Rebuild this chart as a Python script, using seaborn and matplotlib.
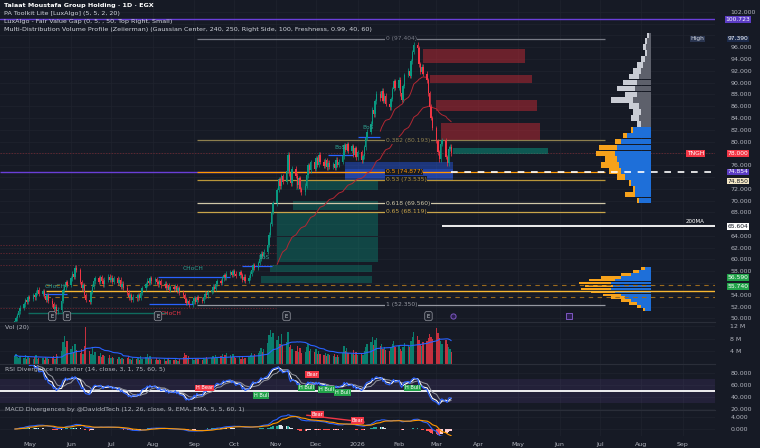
import numpy as np
import pandas as pd
import matplotlib
matplotlib.use('Agg')
import matplotlib.pyplot as plt
import matplotlib.dates as mdates
import matplotlib.transforms as mtrans
import seaborn as sns

sns.set_theme(style='dark')
plt.rcParams['font.family'] = ['DejaVu Sans']

BG = '#161a25'
GRID = '#20242f'
TXT = '#b2b5be'
UP = '#089981'
DN = '#f23645'

# daily closes, one row per trading week (Sun-Thu), from 20 Apr 2025
closes = [
    49.5, 50.0, 50.6, 51.2, 51.8,
    52.4, 53.1, 52.8, 53.6, 53.3,
    54.0, 53.6, 54.4, 54.9, 54.2,
    54.6, 53.8, 53.2, 53.9, 53.0,
    52.4, 51.6, 52.0, 51.2, 51.5,
    53.0, 54.8, 55.3, 56.2, 55.7,
    56.8, 57.6, 57.1, 58.6, 58.2,
    56.2, 55.1, 55.6, 54.0, 53.2,
    52.8, 54.5, 55.4, 56.3, 56.8,
    56.2, 57.0, 56.4, 55.8, 56.6,
    57.1, 56.5, 56.9, 56.2, 56.8,
    56.0, 56.6, 55.4, 55.9, 55.2,
    54.4, 53.6, 53.9, 53.2, 53.7,
    53.4, 54.0, 53.5, 54.3, 55.1,
    55.8, 56.4, 56.0, 56.8, 56.3,
    56.7, 56.1, 55.8, 56.3, 55.6,
    55.9, 55.2, 55.6, 54.9, 55.3,
    55.0, 55.5, 54.7, 55.1, 54.4,
    54.0, 53.3, 52.6, 52.9, 52.4,
    52.9, 53.4, 52.8, 53.6, 53.2,
    53.0, 53.7, 54.2, 53.9, 54.5,
    54.8, 55.4, 55.0, 55.9, 56.3,
    56.0, 56.8, 57.3, 57.0, 57.6,
    57.9, 57.4, 58.0, 57.6, 57.2,
    57.8, 57.3, 56.6, 57.1, 56.4,
    56.9, 57.6, 58.3, 59.0, 58.6,
    59.4, 60.1, 61.0, 60.6, 61.3,
    62.5, 64.2, 66.0, 68.1, 69.5,
    71.8, 73.6, 72.4, 74.1, 73.2,
    75.0, 77.8, 74.6, 72.9, 75.4,
    74.2, 72.6, 73.8, 71.9, 71.4,
    72.5, 74.3, 76.0, 75.1, 76.5,
    75.4, 77.2, 76.1, 77.8, 76.6,
    75.9, 76.8, 75.6, 76.4, 75.7,
    76.2, 75.5, 76.9, 76.0, 76.6,
    77.5, 79.4, 78.6, 79.6, 78.4,
    79.2, 77.8, 78.9, 77.3, 78.2,
    76.8, 77.5, 79.0, 80.6, 81.7,
    83.0, 85.4, 84.6, 86.8, 88.1,
    87.3, 88.6, 86.9, 87.8, 86.4,
    85.8, 87.2, 88.9, 90.2, 89.1,
    90.5, 88.2, 87.1, 89.4, 91.3,
    92.0, 91.1, 93.6, 95.2, 96.4,
    95.8, 93.1, 91.8, 92.7, 91.5,
    90.4, 88.2, 85.9, 84.0, 82.3,
    80.1, 78.2, 77.0, 79.6, 80.2,
    77.4, 76.3, 78.8, 79.1, 78.0,
]

# daily volume in millions
volumes = [
    2.5, 3.1, 2.2, 1.8, 2.6,
    2.0, 2.9, 1.7, 2.4, 1.9,
    1.6, 2.2, 2.8, 1.5, 2.0,
    1.8, 1.4, 2.3, 1.9, 1.6,
    2.1, 2.6, 1.7, 3.0, 2.4,
    4.2, 6.8, 8.9, 5.5, 7.2,
    4.8, 5.6, 3.9, 6.2, 4.4,
    3.5, 4.6, 3.1, 5.8, 11.5,
    4.2, 3.3, 4.9, 2.8, 3.7,
    2.6, 3.4, 2.2, 2.9, 2.4,
    2.0, 2.7, 1.8, 2.3, 1.9,
    1.7, 2.2, 1.5, 2.0, 1.6,
    1.9, 2.4, 1.6, 1.3, 1.8,
    1.5, 2.0, 1.4, 2.6, 1.7,
    2.2, 3.1, 1.8, 2.4, 1.6,
    1.4, 1.9, 1.3, 1.7, 1.2,
    1.6, 1.1, 1.5, 1.9, 1.3,
    1.2, 1.8, 1.4, 1.0, 1.6,
    2.3, 3.4, 2.8, 1.9, 2.5,
    1.8, 1.4, 2.0, 1.5, 1.7,
    1.3, 1.9, 1.6, 2.2, 1.5,
    2.0, 2.6, 1.8, 2.9, 2.2,
    2.4, 3.2, 2.0, 2.7, 3.5,
    2.8, 2.1, 3.0, 2.3, 1.9,
    2.2, 1.7, 2.5, 1.6, 2.0,
    2.3, 2.9, 3.4, 2.6, 3.1,
    3.6, 4.2, 5.1, 3.8, 4.6,
    6.5, 9.2, 10.8, 8.4, 9.9,
    7.6, 8.8, 6.3, 9.4, 5.9,
    6.8, 10.2, 5.4, 6.1, 4.8,
    4.2, 5.6, 3.8, 4.9, 3.5,
    3.9, 5.2, 6.4, 4.1, 4.6,
    3.7, 4.8, 3.3, 4.2, 3.1,
    2.9, 3.6, 2.5, 3.2, 2.7,
    2.4, 3.0, 2.2, 2.8, 2.1,
    3.4, 5.8, 4.2, 4.9, 3.6,
    3.1, 4.3, 2.9, 3.7, 2.8,
    3.2, 2.7, 4.1, 5.3, 6.2,
    6.8, 8.5, 5.9, 7.4, 8.2,
    5.6, 6.3, 4.8, 5.5, 4.4,
    4.1, 5.0, 6.2, 7.1, 5.3,
    5.8, 4.6, 4.0, 5.4, 6.6,
    6.1, 5.2, 7.3, 8.4, 10.1,
    8.8, 7.5, 6.2, 5.8, 6.9,
    7.2, 8.1, 9.4, 8.6, 7.8,
    11.2, 9.6, 8.3, 7.1, 6.4,
    7.5, 6.2, 5.4, 4.8, 3.9,
]

start_day = '2025-04-20'
view_start = '2025-04-09'
view_end = '2026-09-25'

# fibonacci retracement
fib_names = ['0', '0.382', '0.5', '0.53', '0.618', '0.65', '1']
fib_prices = [97.404, 80.193, 74.877, 73.535, 69.560, 68.119, 52.350]
fib_colors = ['#787b86', '#8d7f4e', '#ff9800', '#b8963a', '#cfc7a8', '#c9a54a', '#9598a1']
fib_from, fib_to, fib_label_at = '2025-09-03', '2026-07-05', '2026-01-22'

# fair value gaps / order blocks
bear_left = ['2026-02-19', '2026-02-24', '2026-03-01', '2026-03-04']
bear_right = ['2026-05-06', '2026-05-11', '2026-05-15', '2026-05-17']
bear_low = [93.4, 89.9, 85.1, 80.3]
bear_high = [95.7, 91.3, 87.0, 83.2]

bull_left = ['2025-11-16', '2025-11-14', '2025-11-02', '2025-11-02', '2025-10-28', '2025-10-21']
bull_right = ['2026-01-16', '2026-01-16', '2026-01-16', '2026-01-16', '2026-01-12', '2026-01-12']
bull_low = [71.8, 68.4, 64.0, 59.6, 57.9, 56.0]
bull_high = [73.5, 69.9, 68.0, 63.8, 59.1, 57.2]

ob_left, ob_right, ob_low, ob_high = '2025-12-23', '2026-03-13', 73.3, 76.5
fvg_right_box = ('2026-03-13', '2026-05-23', 77.9, 78.9)

# market structure lines and labels
struct_from = ['2025-08-05', '2025-07-29', '2025-05-11', '2025-10-07', '2025-12-10', '2026-01-01']
struct_to = ['2025-09-28', '2025-08-31', '2025-05-29', '2025-10-29', '2025-12-29', '2026-01-18']
struct_price = [57.1, 52.5, 54.2, 58.9, 77.7, 80.8]
struct_text = ['CHoCH', 'CHoCH', 'CHoCH', 'BoS', 'BoS', 'BoS']
struct_label_date = ['2025-08-31', '2025-08-15', '2025-05-20', '2025-10-23', '2025-12-19', '2026-01-09']
struct_label_price = [58.4, 50.9, 55.5, 60.3, 79.0, 82.3]
struct_label_color = ['#2f9e8f', '#f23645', '#2f9e8f', '#2f9e8f', '#2f9e8f', '#2f9e8f']

e_dates = ['2025-05-18', '2025-05-29', '2025-08-05', '2025-11-09', '2026-02-23']

# volume profile (right side)
vp_edge = '2026-08-08'
vp_up_levels = list(range(70, 99))
vp_up_total = [14, 26, 18, 22, 34, 42, 50, 46, 55, 52, 36, 28, 20, 14,
               20, 18, 22, 40, 26, 34, 28, 22, 18, 14, 10, 6, 8, 6, 4]
vp_up_inner = [12, 16, 16, 20, 26, 30, 32, 34, 36, 34, 30, 24, 18, 10,
               12, 10, 12, 18, 14, 16, 14, 12, 10, 8, 6, 4, 5, 4, 2]
vp_low_levels = [51.5, 52, 52.5, 53, 53.5, 54, 54.5, 55, 55.5, 56, 56.5, 57, 57.5, 58, 58.5]
vp_low_total = [8, 14, 22, 30, 40, 48, 60, 70, 66, 72, 62, 50, 30, 18, 10]
vp_low_inner = [6, 10, 14, 20, 26, 30, 36, 40, 38, 40, 36, 30, 20, 12, 6]

# indicator tags
rsi_tag_dates = ['2025-09-09', '2025-10-21', '2025-11-28', '2025-11-24', '2025-12-09', '2025-12-21', '2026-02-11']
rsi_tag_vals = [55, 43, 77, 55, 52, 48, 55]
rsi_tag_text = ['H Bear', 'H Bull', 'Bear', 'H Bull', 'H Bull', 'H Bull', 'H Bull']
macd_tag_dates = ['2025-12-02', '2026-01-01']
macd_tag_vals = [4.9, 2.9]
macd_div_dates = ['2025-11-24', '2026-01-06']
macd_div_vals = [4.6, 2.3]

# price ticks hidden behind the right-hand price tags
hidden_ticks = [56, 66, 74, 78, 98, 100]


def dn(d):
    return mdates.date2num(pd.Timestamp(d))


dates = pd.bdate_range(start_day, periods=len(closes), freq='C', weekmask='Sun Mon Tue Wed Thu')
xs = mdates.date2num(dates)
close = pd.Series(closes, dtype=float)
opens = close.shift(1).fillna(close.iloc[0] - 0.4)
vol = pd.Series(volumes, dtype=float)
up = (close >= opens).values
cols = np.where(up, UP, DN)

# indicators
delta = close.diff()
ag = delta.clip(lower=0).ewm(alpha=1 / 14, adjust=False).mean()
al = (-delta.clip(upper=0)).ewm(alpha=1 / 14, adjust=False).mean()
rsi = 100 - 100 / (1 + ag / al)
macd = close.ewm(span=12, adjust=False).mean() - close.ewm(span=26, adjust=False).mean()
signal = macd.ewm(span=9, adjust=False).mean()
hist = macd - signal
ema50 = close.ewm(span=50, adjust=False).mean()
ema20 = close.ewm(span=20, adjust=False).mean()
vol_ma = vol.rolling(20, min_periods=1).mean()

W, H = 760, 448
fig = plt.figure(figsize=(7.6, 4.48), dpi=100, facecolor=BG)


def frac(x0, y0, x1, y1):
    return [x0 / W, 1 - y1 / H, (x1 - x0) / W, (y1 - y0) / H]


ax_p = fig.add_axes(frac(0, 0, 715, 322))
ax_v = fig.add_axes(frac(0, 322, 715, 364))
ax_r = fig.add_axes(frac(0, 364, 715, 410))
ax_m = fig.add_axes(frac(0, 410, 715, 436))

month_ticks = pd.date_range('2025-05-01', '2026-09-01', freq='MS')
month_labels = [str(d.year) if d.month == 1 else d.strftime('%b') for d in month_ticks]
xl = (dn(view_start), dn(view_end))


def style(ax, ylim, yticks, ylabels, sep=True):
    ax.set_facecolor(BG)
    ax.set_xlim(*xl)
    ax.set_ylim(*ylim)
    ax.set_xticks(mdates.date2num(month_ticks))
    ax.set_xticklabels([])
    ax.set_yticks(yticks)
    ax.set_yticklabels(ylabels, fontsize=4.5, color=TXT)
    ax.yaxis.tick_right()
    ax.tick_params(axis='both', length=0, pad=11)
    ax.grid(True, color=GRID, lw=0.5)
    ax.set_axisbelow(True)
    for s in ax.spines.values():
        s.set_visible(False)
    if sep:
        ax.spines['top'].set_visible(True)
        ax.spines['top'].set_color('#2a2e39')
        ax.spines['top'].set_linewidth(0.8)
    ax.set_xlabel('')
    ax.set_ylabel('')


# ---------------- price pane ----------------
ptick = list(range(50, 104, 2))
style(ax_p, (49.4, 104.0), ptick, ['' if v in hidden_ticks else f'{v:.3f}' for v in ptick], sep=False)
blend_p = mtrans.blended_transform_factory(ax_p.transAxes, ax_p.transData)

for y in [62.5, 61.1, 59.1, 51.8]:
    ax_p.hlines(y, xl[0], dn('2025-11-01'), colors='#7a2a33', lw=0.5, linestyles=(0, (2, 2)), zorder=1)
ax_p.axhline(78.0, color='#7a2a33', lw=0.5, ls=(0, (2, 2)), zorder=1)

for l, r, lo, hi in zip(bear_left, bear_right, bear_low, bear_high):
    ax_p.fill_between([dn(l), dn(r)], lo, hi, color='#b22833', alpha=0.55, lw=0, zorder=1)
for l, r, lo, hi in zip(bull_left, bull_right, bull_low, bull_high):
    ax_p.fill_between([dn(l), dn(r)], lo, hi, color='#089981', alpha=0.35, lw=0, zorder=1)
ax_p.fill_between([dn(ob_left), dn(ob_right)], ob_low, ob_high, color='#2962ff', alpha=0.4, lw=0, zorder=1)
ax_p.fill_between([dn(ob_left), dn(ob_right)], ob_low + 0.6, ob_high - 1.2, color='#2962ff', alpha=0.3, lw=0, zorder=1)
ax_p.fill_between([dn(fvg_right_box[0]), dn(fvg_right_box[1])], fvg_right_box[2], fvg_right_box[3],
                  color='#089981', alpha=0.5, lw=0, zorder=1)

# volume profile
edge = dn(vp_edge)
scale = 1 / 1.339
for lv, tot, inn in zip(vp_up_levels, vp_up_total, vp_up_inner):
    outer = '#f7a21b' if lv <= 82 else '#c9ccd4'
    inner = '#1e6fd9' if lv <= 82 else '#5d606b'
    ax_p.barh(lv, -tot * scale, left=edge, height=0.95, color=outer, lw=0, zorder=1)
    ax_p.barh(lv, -inn * scale, left=edge, height=0.95, color=inner, lw=0, zorder=1)
for lv, tot, inn in zip(vp_low_levels, vp_low_total, vp_low_inner):
    ax_p.barh(lv, -tot * scale, left=edge, height=0.45, color='#f7a21b', lw=0, zorder=1)
    ax_p.barh(lv, -inn * scale, left=edge, height=0.45, color='#1e6fd9', lw=0, zorder=1)

# horizontal levels
ax_p.axhline(100.723, color='#6a3fd8', lw=1.0, zorder=2)
ax_p.hlines(74.854, xl[0], dn('2026-03-12'), colors='#6a3fd8', lw=1.0, zorder=2)
for name, pr, c in zip(fib_names, fib_prices, fib_colors):
    ax_p.hlines(pr, dn(fib_from), dn(fib_to), colors=c, lw=0.9, zorder=2)
    ax_p.text(dn(fib_label_at), pr, f'{name} ({pr:.3f})', fontsize=4.3, color=c, va='center', ha='left',
              zorder=4, bbox=dict(fc=BG, ec='none', pad=0.5))
ax_p.hlines(74.854, dn('2026-03-12'), xl[1], colors='white', lw=1.2, linestyles=(0, (4, 4)), zorder=3)
ax_p.hlines(65.604, dn('2026-03-05'), xl[1], colors='white', lw=1.3, zorder=3)
ax_p.hlines(54.7, dn('2025-05-13'), xl[1], colors='#f7b731', lw=1.0, zorder=2)
for y in [55.6, 53.7]:
    ax_p.hlines(y, dn('2025-05-13'), xl[1], colors='#9a6a1e', lw=0.8, linestyles=(0, (4, 4)), zorder=2)
ax_p.hlines(51.0, dn('2025-04-30'), dn('2025-08-12'), colors='#0f6b5e', lw=1.0, zorder=2)

for f, t, p, txt, ld, lp, lc in zip(struct_from, struct_to, struct_price, struct_text,
                                     struct_label_date, struct_label_price, struct_label_color):
    ax_p.hlines(p, dn(f), dn(t), colors='#2962ff', lw=0.9, zorder=2)
    ax_p.text(dn(ld), lp, txt, fontsize=4.2, color=lc, ha='center', va='center', zorder=4)

# moving averages
m50 = dates >= pd.Timestamp('2025-11-01')
sns.lineplot(x=xs[m50], y=ema50.values[m50], ax=ax_p, color='#b22833', linewidth=0.7, zorder=2)
m20 = (dates >= pd.Timestamp('2026-01-18')) & (dates <= pd.Timestamp('2026-02-22'))
sns.lineplot(x=xs[m20], y=ema20.values[m20], ax=ax_p, color='#b22833', linewidth=0.7, zorder=2)

# candles
highs = np.maximum(opens.values, close.values) + 0.4
lows = np.minimum(opens.values, close.values) - 0.4
ax_p.vlines(xs, lows, highs, colors=cols, lw=0.5, zorder=3)
body = np.maximum(np.abs(close.values - opens.values), 0.15)
ax_p.bar(xs, body, bottom=np.minimum(opens.values, close.values), width=1.0, color=cols, lw=0, zorder=3)

# event markers
for d in e_dates:
    ax_p.text(dn(d), 50.4, 'E', fontsize=3.8, color='#d1d4dc', ha='center', va='center', zorder=4,
              bbox=dict(fc='#1e222d', ec='#9598a1', lw=0.5, boxstyle='round,pad=0.4'))
ax_p.scatter([dn('2026-03-13')], [50.4], s=14, facecolor='#2a1f4d', edgecolor='#7e57c2', lw=0.7, zorder=4)
ax_p.scatter([dn('2026-06-08')], [50.4], s=14, marker='s', facecolor='#2a1f4d', edgecolor='#7e57c2', lw=0.7, zorder=4)


def tag(ax, tr, x, y, txt, fc, tc='white', ha='center'):
    ax.text(x, y, txt, transform=tr, fontsize=4.3, color=tc, ha=ha, va='center', clip_on=False, zorder=6,
            bbox=dict(fc=fc, ec='none', pad=0.6))


tag(ax_p, blend_p, 1.032, 100.723, '100.723', '#5b3cc4')
tag(ax_p, blend_p, 0.985, 97.39, 'High', '#2a3550', tc='#d1d4dc', ha='right')
tag(ax_p, blend_p, 1.032, 97.39, '97.390', '#1c2a4a')
tag(ax_p, blend_p, 0.985, 78.0, 'TNGH', DN, ha='right')
tag(ax_p, blend_p, 1.032, 78.0, '78.000', DN)
tag(ax_p, blend_p, 1.032, 74.854, '74.854', '#5b3cc4')
tag(ax_p, blend_p, 1.032, 73.3, '74.850', '#f3e6c4', tc='#131722')
tag(ax_p, blend_p, 1.032, 65.604, '65.604', 'white', tc='#131722')
ax_p.text(0.985, 66.5, '200MA', transform=blend_p, fontsize=4.0, color='white', ha='right', va='center')
tag(ax_p, blend_p, 1.032, 56.95, '56.590', '#22a34a')
tag(ax_p, blend_p, 1.032, 55.45, '55.740', '#22a34a')

# ---------------- volume pane ----------------
style(ax_v, (0, 13.2), [4, 8, 12], ['4 M', '8 M', '12 M'])
ax_v.bar(xs, vol.values, width=1.0, color=cols, alpha=0.8, lw=0)
sns.lineplot(x=xs, y=vol_ma.values, ax=ax_v, color='#2962ff', linewidth=0.8)
ax_v.set_xlabel('')
ax_v.set_ylabel('')
ax_v.text(0.007, 0.86, 'Vol (20)', transform=ax_v.transAxes, fontsize=4.5, color=TXT, va='center')

# ---------------- RSI pane ----------------
style(ax_r, (18.3, 95), [20, 40, 60, 80], ['20.000', '40.000', '60.000', '80.000'])
ax_r.axhspan(30, 70, color='#7e57c2', alpha=0.13, lw=0)
ax_r.axhline(50, color='white', lw=1.3)
sns.lineplot(x=xs, y=rsi.rolling(8, min_periods=1).mean().values, ax=ax_r, color='#9598a1', linewidth=0.7)
sns.lineplot(x=xs, y=rsi.rolling(3, min_periods=1).mean().values, ax=ax_r, color='white', linewidth=0.8)
sns.lineplot(x=xs, y=rsi.values, ax=ax_r, color='#2962ff', linewidth=0.8)
ax_r.set_xlabel('')
ax_r.set_ylabel('')
for d, v, t in zip(rsi_tag_dates, rsi_tag_vals, rsi_tag_text):
    ax_r.text(dn(d), v, t, fontsize=3.6, color='white', ha='center', va='center', zorder=5,
              bbox=dict(fc=DN if 'Bear' in t else '#22a34a', ec='none', pad=0.6))
ax_r.text(0.007, 0.88, 'RSI Divergence Indicator (14, close, 3, 1, 75, 60, 5)', transform=ax_r.transAxes,
          fontsize=4.5, color=TXT, va='center')

# ---------------- MACD pane ----------------
style(ax_m, (-2.33, 6.33), [0, 4], ['0.000', '4.000'])
hcol = []
for i, h in enumerate(hist.values):
    prev = hist.values[i - 1] if i else 0
    if h >= 0:
        hcol.append('#26a69a' if h >= prev else '#e0e3eb')
    else:
        hcol.append('#ff5252' if h < prev else '#ffcdd2')
ax_m.bar(xs, hist.values, width=1.0, color=hcol, lw=0)
sns.lineplot(x=xs, y=macd.values, ax=ax_m, color='#2962ff', linewidth=0.8)
sns.lineplot(x=xs, y=signal.values, ax=ax_m, color='#ff9800', linewidth=0.8)
ax_m.plot([dn(d) for d in macd_div_dates], macd_div_vals, color=DN, lw=1.0)
for d, v in zip(macd_tag_dates, macd_tag_vals):
    ax_m.text(dn(d), v, 'Bear', fontsize=3.6, color='white', ha='center', va='center', zorder=5,
              bbox=dict(fc=DN, ec='none', pad=0.6))
ax_m.set_xlabel('')
ax_m.set_ylabel('')
ax_m.set_xticklabels(month_labels, fontsize=4.5, color=TXT)
ax_m.tick_params(axis='x', pad=4)
fig.text(5 / W, 1 - 409 / H, 'MACD Divergences by @DaviddTech (12, 26, close, 9, EMA, EMA, 5, 5, 60, 1)',
         fontsize=4.5, color=TXT, va='center')

# ---------------- header ----------------
heads = ['Talaat Moustafa Group Holding · 1D · EGX',
         'PA Toolkit Lite [LuxAlgo] (5, 5, 2, 20)',
         'LuxAlgo - Fair Value Gap (0, 5, , 50, Top Right, Small)',
         'Multi-Distribution Volume Profile (Zeiierman) (Gaussian Center, 240, 250, Right Side, 100, Freshness, 0.99, 40, 60)']
for i, t in enumerate(heads):
    fig.text(4 / W, 1 - (5 + 8 * i) / H, t, fontsize=4.6, color='white' if i == 0 else '#d1d4dc',
             fontweight='bold' if i == 0 else 'normal', va='center')

fig.savefig('out.png', dpi=100, facecolor=BG)
